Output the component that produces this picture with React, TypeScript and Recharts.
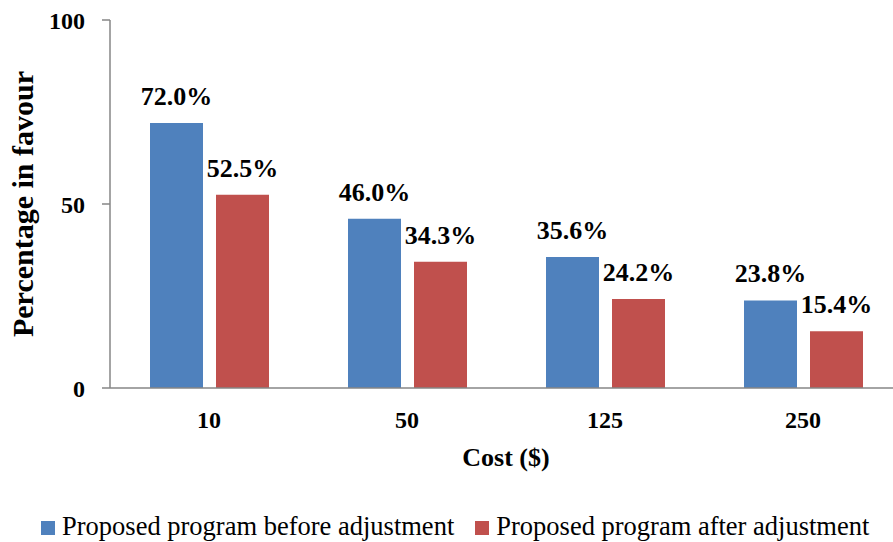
import React from 'react';
import { BarChart, Bar, XAxis, YAxis, LabelList } from 'recharts';

const costs = ['10', '50', '125', '250'];
const beforeAdjustment = [72.0, 46.0, 35.6, 23.8];
const afterAdjustment = [52.5, 34.3, 24.2, 15.4];
const yTicks = [0, 50, 100];

const seriesNames = ['Proposed program before adjustment', 'Proposed program after adjustment'];
const seriesColors = ['#4F81BD', '#C0504D'];

const FONT = '"Liberation Serif", "Times New Roman", serif';
const AXIS_GREY = '#868686';

const chartData = costs.map((cost, i) => ({
  cost,
  before: beforeAdjustment[i],
  after: afterAdjustment[i],
}));

const pct = (v: any) => `${Number(v).toFixed(1)}%`;

const labelStyle = { fontFamily: FONT, fontSize: 26, fontWeight: 700, fill: '#000' };

const App = () => {
  return (
    <div
      style={{
        position: 'absolute',
        left: 0,
        top: 0,
        width: 893,
        height: 542,
        overflow: 'hidden',
        background: '#fff',
      }}
    >
      <BarChart
        width={902}
        height={542}
        data={chartData}
        margin={{ top: 20, right: 0, left: 0, bottom: 0 }}
        barSize={53}
        barGap={13}
        style={{ position: 'absolute', left: 0, top: 0 }}
      >
        <XAxis
          dataKey="cost"
          height={154}
          tickLine={false}
          tickSize={0}
          tickMargin={23}
          axisLine={{ stroke: AXIS_GREY, strokeWidth: 1.5 }}
          tick={{ fontFamily: FONT, fontSize: 24, fontWeight: 700, fill: '#000' }}
          label={{
            value: 'Cost ($)',
            position: 'insideTop',
            offset: 60,
            style: { fontFamily: FONT, fontSize: 26, fontWeight: 700, fill: '#000' },
          }}
        />
        <YAxis
          width={110}
          domain={[0, 100]}
          ticks={yTicks}
          tickSize={8}
          tickMargin={17}
          tickLine={{ stroke: AXIS_GREY, strokeWidth: 1.5 }}
          axisLine={{ stroke: AXIS_GREY, strokeWidth: 1.5 }}
          tick={{ fontFamily: FONT, fontSize: 24, fontWeight: 700, fill: '#000' }}
          label={{
            value: 'Percentage in favour',
            angle: -90,
            position: 'insideLeft',
            offset: 22,
            style: { fontFamily: FONT, fontSize: 30, fontWeight: 700, fill: '#000', textAnchor: 'middle' },
          }}
        />
        <Bar dataKey="before" name={seriesNames[0]} fill={seriesColors[0]} isAnimationActive={false}>
          <LabelList dataKey="before" position="top" offset={18} formatter={pct} style={labelStyle} />
        </Bar>
        <Bar dataKey="after" name={seriesNames[1]} fill={seriesColors[1]} isAnimationActive={false}>
          <LabelList dataKey="after" position="top" offset={18} formatter={pct} style={labelStyle} />
        </Bar>
      </BarChart>

      {/* legend row under the axis title */}
      <div
        style={{
          position: 'absolute',
          left: 41,
          top: 512,
          display: 'flex',
          alignItems: 'center',
          fontFamily: FONT,
          fontSize: 26.5,
          lineHeight: '28px',
          color: '#000',
          whiteSpace: 'nowrap',
        }}
      >
        {seriesNames.map((name, i) => (
          <div key={name} style={{ display: 'flex', alignItems: 'center', marginRight: 21 }}>
            <span
              style={{
                display: 'inline-block',
                width: 14,
                height: 14,
                background: seriesColors[i],
                marginRight: 7,
                marginTop: 3,
              }}
            />
            <span>{name}</span>
          </div>
        ))}
      </div>
    </div>
  );
};

export default App;
